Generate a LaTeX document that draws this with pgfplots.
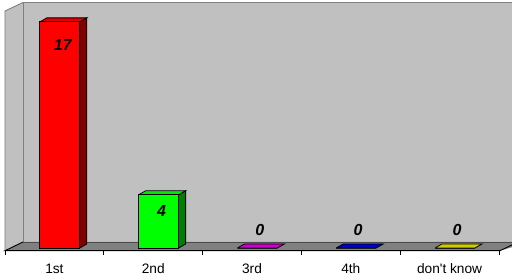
\documentclass[border=0pt]{standalone}
\usepackage{pgfplots}
\pgfplotsset{compat=1.18}
\usepackage{fontspec}
\setmainfont{Liberation Sans}
\definecolor{wall}{HTML}{C0C0C0}
\definecolor{walledge}{HTML}{808080}
\definecolor{floorc}{HTML}{808080}
\definecolor{redf}{HTML}{FF0000}
\definecolor{redt}{HTML}{E80000}
\definecolor{reds}{HTML}{800000}
\definecolor{greenf}{HTML}{00FF00}
\definecolor{greent}{HTML}{00E800}
\definecolor{greens}{HTML}{008000}
\definecolor{magt}{HTML}{CC00CC}
\definecolor{bluet}{HTML}{0000CC}
\definecolor{yelt}{HTML}{CCCC00}
\begin{document}
\begin{tikzpicture}
% decoration in pixel coordinates (x right, y down), axis origin at px (10.4,248)
\begin{scope}[x=1pt,y=-1pt,shift={(-10.4pt,248pt)}]
\useasboundingbox (0,0) rectangle (512,280);
% back wall
\fill[wall] (23,2.5) rectangle (530,242);
\draw[walledge,line width=0.9pt] (23,242) -- (23,2.5) -- (530,2.5);
% left wall
\fill[wall] (5,11) -- (23,2.5) -- (23,242) -- (5,250.7) -- cycle;
\draw[walledge,line width=0.9pt] (5,250.7) -- (5,11) -- (23,2.5);
% floor
\fill[floorc] (5,250.7) -- (23,242) -- (530,242) -- (500,250.7) -- cycle;
\draw[black!70,line width=0.6pt] (23,242) -- (530,242);
\draw[black,line width=0.9pt] (23,242) -- (5,250.7) -- (500,250.7) -- (518,242);
% ticks
\foreach \k in {0,...,5} {
  \draw[black,line width=0.9pt] ({5+98.8*\k},250.7) -- ({5+98.8*\k},255.5);
}
\end{scope}
\begin{axis}[
  scale only axis,
  width=494pt, height=226.1pt,
  xmin=0, xmax=5, ymin=0, ymax=17,
  enlargelimits=false,
  clip=false,
  axis line style={draw=none},
  ytick=\empty,
  xtick={0.5,1.5,2.5,3.5,4.5},
  xticklabels={1st,2nd,3rd,4th,don\textquotesingle t know},
  major tick length=0pt,
  xticklabel style={anchor=base, yshift=-25.3pt, xshift=-5.4pt,
    font=\fontsize{13.7}{14}\selectfont, inner sep=0pt},
  /pgf/number format/assume math mode=true,
  every node near coord/.append style={font=\bfseries\itshape\fontsize{16}{16}\selectfont, inner sep=0pt},
]
% bar 1 (17)
\addplot[fill=reds, draw=black, line width=0.8pt] coordinates {(0.7024,0) (0.7733,0.3008) (0.7733,17.3008) (0.7024,17) (0.7024,0)};
\addplot[fill=redt, draw=black, line width=0.8pt] coordinates {(0.2976,17) (0.7024,17) (0.7733,17.3008) (0.3685,17.3008) (0.2976,17)};
\addplot[ybar, bar width=40pt, fill=redf, draw=black, line width=0.8pt,
  nodes near coords, nodes near coords align={anchor=center},
  every node near coord/.append style={anchor=center, yshift=-23.5pt, xshift=3pt}]
  coordinates {(0.5,17)};
% bar 2 (4)
\addplot[fill=greens, draw=black, line width=0.8pt] coordinates {(1.7024,0) (1.7733,0.3008) (1.7733,4.3008) (1.7024,4) (1.7024,0)};
\addplot[fill=greent, draw=black, line width=0.8pt] coordinates {(1.2976,4) (1.7024,4) (1.7733,4.3008) (1.3685,4.3008) (1.2976,4)};
\addplot[ybar, bar width=40pt, fill=greenf, draw=black, line width=0.8pt,
  nodes near coords, nodes near coords align={anchor=center},
  every node near coord/.append style={anchor=center, yshift=-16.7pt, xshift=3pt}]
  coordinates {(1.5,4)};
% bar 3 (0)
\addplot[fill=magt, draw=black, line width=0.8pt] coordinates {(2.2976,0) (2.7024,0) (2.7733,0.3008) (2.3685,0.3008) (2.2976,0)};
\addplot[ybar, bar width=40pt, fill=magt, draw=black, line width=0.8pt,
  nodes near coords, nodes near coords align={anchor=center},
  every node near coord/.append style={anchor=center, yshift=18pt, xshift=2.5pt}]
  coordinates {(2.5,0)};
% bar 4 (0)
\addplot[fill=bluet, draw=black, line width=0.8pt] coordinates {(3.2976,0) (3.7024,0) (3.7733,0.3008) (3.3685,0.3008) (3.2976,0)};
\addplot[ybar, bar width=40pt, fill=bluet, draw=black, line width=0.8pt,
  nodes near coords, nodes near coords align={anchor=center},
  every node near coord/.append style={anchor=center, yshift=18pt, xshift=2pt}]
  coordinates {(3.5,0)};
% bar 5 (0)
\addplot[fill=yelt, draw=black, line width=0.8pt] coordinates {(4.2976,0) (4.7024,0) (4.7733,0.3008) (4.3685,0.3008) (4.2976,0)};
\addplot[ybar, bar width=40pt, fill=yelt, draw=black, line width=0.8pt,
  nodes near coords, nodes near coords align={anchor=center},
  every node near coord/.append style={anchor=center, yshift=18pt, xshift=2pt}]
  coordinates {(4.5,0)};
\end{axis}
\end{tikzpicture}
\end{document}
